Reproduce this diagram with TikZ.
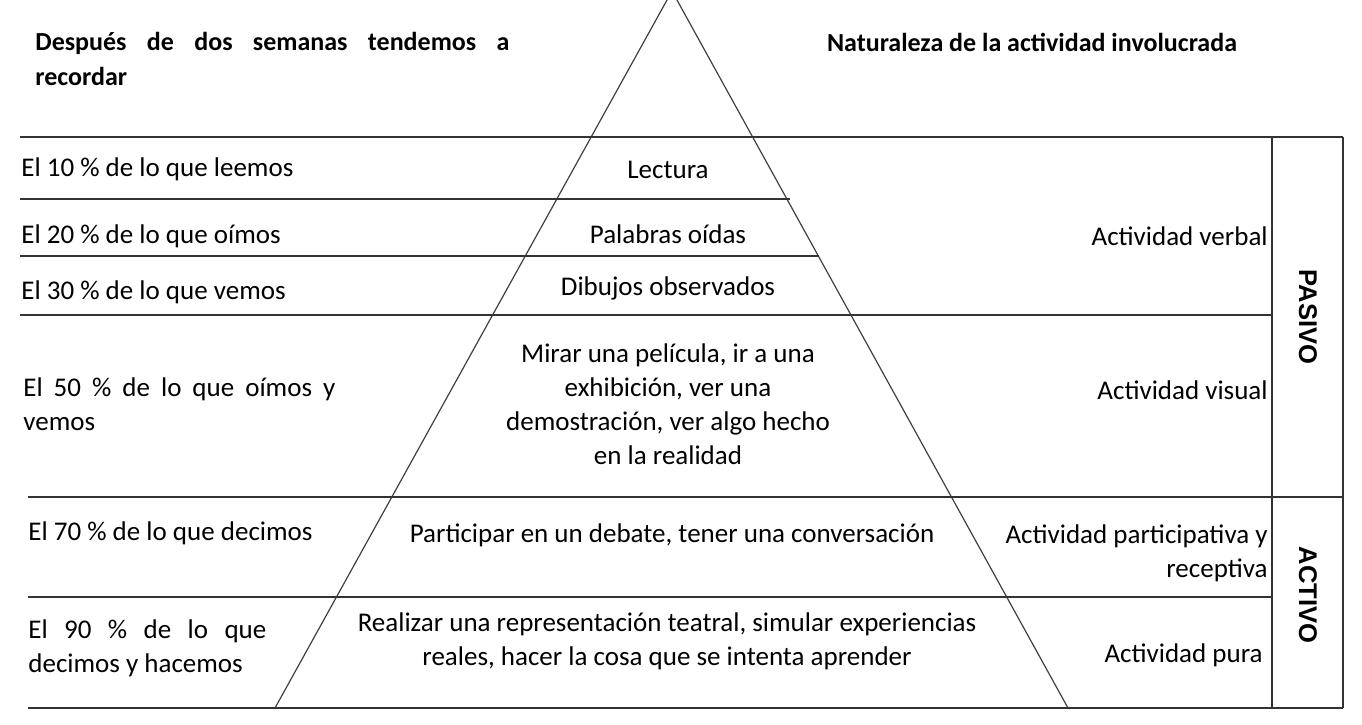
\documentclass[tikz,border=0pt]{standalone}
\usepackage{fontspec}
\setmainfont{Carlito}
\newfontfamily\modofont{Liberation Sans}
\usetikzlibrary{positioning}

\tikzset{
	rule/.style={line width=0.9pt, draw=black!80},
	side/.style={line width=0.6pt, draw=black!75},
	cell/.style={inner sep=0pt, font=\fontsize{13.5}{17}\selectfont},
	head/.style={inner sep=0pt, font=\fontsize{13}{17.5}\selectfont\bfseries},
	modo/.style={inner sep=0pt, font=\fontsize{12.8}{15}\selectfont\modofont\bfseries},
}

\begin{document}
\begin{tikzpicture}[x=0.5pt, y={(0pt,-0.5pt)}]
		\useasboundingbox (0,0) rectangle (1362,724);
		
		% pyramid
		\coordinate (apex) at (672,-9);
		\coordinate (baseL) at (275,708);
		\coordinate (baseR) at (1068,708);
		\draw [side] (baseL) -- (apex) -- (baseR);
		
		% table rules
		\draw [rule] (20,137) -- (1343,137);
		\draw [rule] (20,199) -- (790,199);
		\draw [rule] (20,256) -- (819,256);
		\draw [rule] (20,315) -- (1272,315);
		\draw [rule] (28,497) -- (1343,497);
		\draw [rule] (28,597) -- (1272,597);
		\draw [rule] (28,708) -- (1343,708);
		\draw [rule] (1272,137) -- (1272,708);
		\draw [rule] (1343,137) -- (1343,708);
		
		% headings
		\node at (35,59) [head, anchor=west, align=left] (recordar) {\makebox[237pt][s]{Después de dos semanas tendemos a}\\recordar};
		\node at (1032,42) [head] (naturaleza) {Naturaleza de la actividad involucrada};
		
		% left column
		\node at (21,169) [cell, anchor=west] (p10) {El 10 \% de lo que leemos};
		\node at (21,236) [cell, anchor=west] (p20) {El 20 \% de lo que oímos};
		\node at (21,292) [cell, anchor=west] (p30) {El 30 \% de lo que vemos};
		\node at (23,404) [cell, anchor=west, align=left] (p50) {\makebox[156pt][s]{El 50 \% de lo que oímos y}\\vemos};
		\node at (28,533) [cell, anchor=west] (p70) {El 70 \% de lo que decimos};
		\node at (28,648) [cell, anchor=west, align=left] (p90) {\makebox[119pt][s]{El 90 \% de lo que}\\decimos y hacemos};
		
		% inside the pyramid
		\node at (668,170) [cell] (lectura) {Lectura};
		\node at (668,234) [cell] (palabras) {Palabras oídas};
		\node at (668,288) [cell] (dibujos) {Dibujos observados};
		\node at (668,404) [cell, align=center] (mirar) {Mirar una película, ir a una\\exhibición, ver una\\demostración, ver algo hecho\\en la realidad};
		\node at (672,535) [cell] (debate) {Participar en un debate, tener una conversación};
		\node at (667,641) [cell, align=center] (teatro) {Realizar una representación teatral, simular experiencias\\reales, hacer la cosa que se intenta aprender};
		
		% right column
		\node at (1268,236) [cell, anchor=east] (verbal) {Actividad verbal};
		\node at (1268,390) [cell, anchor=east] (visual) {Actividad visual};
		\node at (1268,553) [cell, anchor=east, align=right] (particip) {Actividad participativa y\\receptiva};
		\node at (1263,655) [cell, anchor=east] (pura) {Actividad pura};
		
		\node at (1308,317) [modo, rotate=-90] (pasivo) {PASIVO};
		\node at (1308,595) [modo, rotate=-90] (activo) {ACTIVO};
		
\end{tikzpicture}
\end{document}
